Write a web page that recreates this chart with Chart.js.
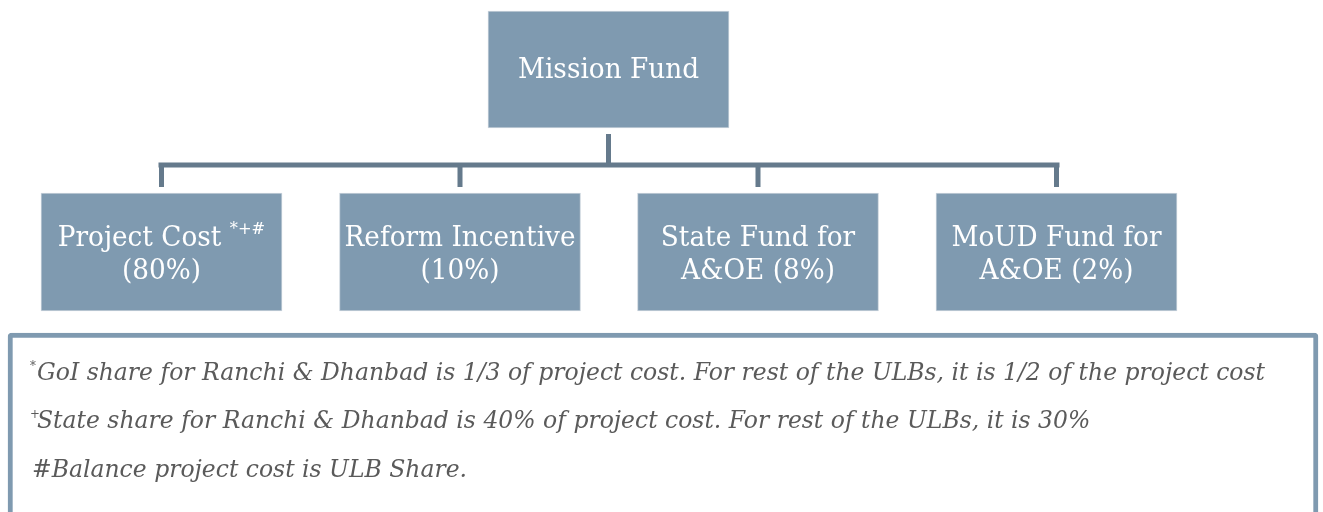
<!DOCTYPE html>
<html><head><meta charset="utf-8">
<script src="https://cdn.jsdelivr.net/npm/chart.js@4.4.1/dist/chart.umd.min.js"></script>
<style>html,body{margin:0;padding:0;background:#fff;overflow:hidden}#wrap{width:1323px;height:512px}</style>
</head><body><div id="wrap"><canvas id="c" width="1323" height="512"></canvas></div>
<script>
// ---- data ----
const rootLabel = 'Mission Fund';
const branchLine1 = ['Project Cost', 'Reform Incentive', 'State Fund for', 'MoUD Fund for'];
const branchLine2Prefix = ['', '', 'A&OE ', 'A&OE '];
const branchShares = [80, 10, 8, 2];
const branchMarks = ['*+#', '', '', ''];
const footnoteMarks = ['*', '+', '#'];
const footnoteTexts = [
  'GoI share for Ranchi & Dhanbad is 1/3 of project cost. For rest of the ULBs, it is 1/2 of the project cost',
  'State share for Ranchi & Dhanbad is 40% of project cost. For rest of the ULBs, it is 30%',
  'Balance project cost is ULB Share.'
];

// ---- layout (diagram geometry in scale units) ----
const W = 1323, H = 512;
const root = {x: 608.5, top: 11, bottom: 128};
const branchX = [161.5, 460, 758, 1056.5];
const branchBox = {top: 193, bottom: 311};
const boxW = 241;
const busY = 165, stemTop = 134, dropBottom = 187;
const note = {left: 8, right: 1318, top: 333, bottom: 540};
const noteBaselines = [380, 428, 477];

const BOX = '#7f9ab0', LINE = '#657a8c', NOTE_BORDER = '#7f9ab0', NOTE_TEXT = '#5a5a5a';

const boxData = [{x: root.x, y: [root.top, root.bottom]}]
  .concat(branchX.map(x => ({x, y: [branchBox.top, branchBox.bottom]})));

const connectorSegs = [
  [[root.x, stemTop], [root.x, busY]],
  [[branchX[0] - 3, busY], [branchX[3] + 3, busY]],
  ...branchX.map(x => [[x, busY], [x, dropBottom]])
];

const lineSets = connectorSegs.map(seg => ({
  type: 'line',
  data: seg.map(p => ({x: p[0], y: p[1]})),
  borderColor: LINE, borderWidth: 5, borderCapStyle: 'butt',
  pointRadius: 0, fill: false, order: 3
}));

const FAMILY = '"DejaVu Serif", serif';
const BOX_SIZE = 27;
const NOTE_SIZE = 24.5;

function fontStr(style, size) { return (style ? style + ' ' : '') + size + 'px ' + FAMILY; }
function drawText(ctx, text, x, y, align, font, hs) {
  ctx.save();
  ctx.font = font;
  const w = ctx.measureText(text).width * hs;
  let left = x;
  if (align === 'center') left = x - w / 2;
  ctx.translate(left, y);
  ctx.scale(hs, 1);
  ctx.textAlign = 'left';
  ctx.fillText(text, 0, 0);
  ctx.restore();
  return w;
}

const textPlugin = {
  id: 'texts',
  afterDatasetsDraw(chart) {
    const ctx = chart.ctx, sx = chart.scales.x, sy = chart.scales.y;
    ctx.save();
    ctx.textBaseline = 'alphabetic';
    // box labels
    const bf = fontStr('', BOX_SIZE);
    ctx.font = bf;
    const hs = 231 / ctx.measureText('Reform Incentive').width;
    ctx.fillStyle = '#ffffff';
    drawText(ctx, rootLabel, sx.getPixelForValue(root.x), sy.getPixelForValue(78), 'center', bf, hs);
    const mf = fontStr('', BOX_SIZE * 0.62);
    branchX.forEach((bx, i) => {
      const cx = sx.getPixelForValue(bx);
      const l1 = branchLine1[i];
      const mark = branchMarks[i];
      ctx.font = bf;
      const w1 = ctx.measureText(l1 + (mark ? ' ' : '')).width * hs;
      ctx.font = mf;
      const wm = mark ? ctx.measureText(mark).width * hs : 0;
      const start = cx - (w1 + wm) / 2;
      drawText(ctx, l1, start, sy.getPixelForValue(246), 'left', bf, hs);
      if (mark) drawText(ctx, mark, start + w1, sy.getPixelForValue(234), 'left', mf, hs);
      drawText(ctx, branchLine2Prefix[i] + '(' + branchShares[i] + '%)', cx, sy.getPixelForValue(279), 'center', bf, hs);
    });
    // footnotes
    const nf = fontStr('italic', NOTE_SIZE);
    ctx.font = nf;
    const ns = 1228 / ctx.measureText(footnoteTexts[0]).width;
    const smf = fontStr('italic', NOTE_SIZE * 0.5);
    ctx.fillStyle = NOTE_TEXT;
    footnoteTexts.forEach((t, i) => {
      const by = sy.getPixelForValue(noteBaselines[i]);
      if (i < 2) {
        drawText(ctx, footnoteMarks[i], sx.getPixelForValue(30), by - 10, 'left', smf, ns);
        drawText(ctx, t, sx.getPixelForValue(37), by, 'left', nf, ns);
      } else {
        drawText(ctx, footnoteMarks[i] + t, sx.getPixelForValue(32), by, 'left', nf, ns);
      }
    });
    ctx.restore();
  }
};

new Chart(document.getElementById('c'), {
  type: 'bar',
  data: {
    datasets: [
      {
        data: boxData, backgroundColor: BOX, borderColor: '#c8d2db', borderWidth: 1,
        borderSkipped: false, barThickness: boxW, grouped: false, order: 1
      },
      {
        data: [{x: (note.left + note.right) / 2, y: [note.top, note.bottom]}],
        backgroundColor: '#ffffff', borderColor: NOTE_BORDER, borderWidth: 5,
        borderSkipped: false, borderRadius: 4, barThickness: note.right - note.left,
        grouped: false, order: 2
      },
      ...lineSets
    ]
  },
  options: {
    responsive: false, animation: false, events: [],
    layout: {padding: 0},
    plugins: {legend: {display: false}, tooltip: {enabled: false}},
    scales: {
      x: {type: 'linear', min: 0, max: W, display: false, offset: false, grid: {offset: false}},
      y: {type: 'linear', min: 0, max: H, reverse: true, display: false}
    }
  },
  plugins: [textPlugin]
});
</script>
</body></html>
